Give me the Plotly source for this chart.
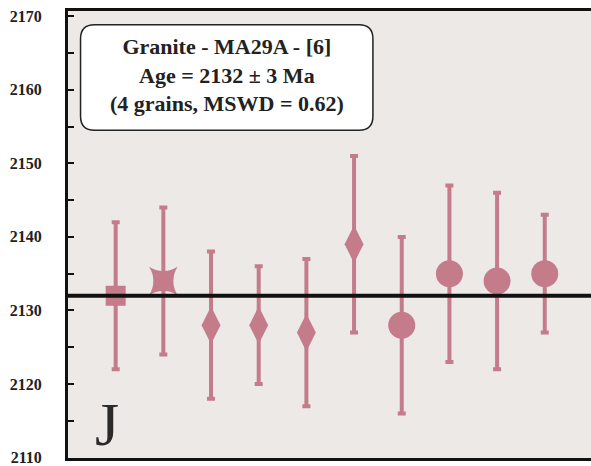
import plotly.graph_objects as go

# Zircon spot ages (Ma) with 2-sigma uncertainties, sample MA29A
grain = [1, 2, 3, 4, 5, 6, 7, 8, 9, 10]
age = [2132, 2134, 2128, 2128, 2127, 2139, 2128, 2135, 2134, 2135]
err = [10, 10, 10, 8, 10, 12, 12, 12, 12, 8]
grain_group = ["A", "B", "C", "C", "C", "C", "D", "D", "D", "D"]

mean_age = 2132
y_ticks = [2110, 2120, 2130, 2140, 2150, 2160, 2170]
box_lines = ["Granite - MA29A - [6]", "Age = 2132 ± 3 Ma", "(4 grains, MSWD = 0.62)"]
panel_label = "J"

PINK = "rgb(196,124,138)"
SERIF = "Liberation Serif, Times New Roman, serif"

group_style = {
    "A": dict(symbol="square", size=20),
    "B": dict(symbol="star-square", size=26),
    "C": dict(symbol="diamond-tall", size=27),
    "D": dict(symbol="circle", size=27),
}

fig = go.Figure()
for g, st in group_style.items():
    idx = [i for i, gg in enumerate(grain_group) if gg == g]
    fig.add_trace(go.Scatter(
        x=[grain[i] for i in idx],
        y=[age[i] for i in idx],
        mode="markers",
        marker=dict(symbol=st["symbol"], size=st["size"], color=PINK,
                    line=dict(width=0)),
        error_y=dict(type="data", array=[err[i] for i in idx], visible=True,
                     color=PINK, thickness=4, width=4),
        showlegend=False,
        hoverinfo="skip",
    ))

# weighted mean age line
fig.add_shape(type="line", xref="paper", x0=0, x1=1, yref="y",
              y0=mean_age, y1=mean_age, line=dict(color="#111111", width=4),
              layer="above")

# rounded text box
x0, x1, y0, y1 = 0.024, 0.583, 0.733, 0.969
rx, ry = 14 / 523, 14 / 447
path = (f"M {x0+rx},{y0} L {x1-rx},{y0} Q {x1},{y0} {x1},{y0+ry} "
        f"L {x1},{y1-ry} Q {x1},{y1} {x1-rx},{y1} L {x0+rx},{y1} "
        f"Q {x0},{y1} {x0},{y1-ry} L {x0},{y0+ry} Q {x0},{y0} {x0+rx},{y0} Z")
fig.add_shape(type="path", xref="paper", yref="paper", path=path,
              fillcolor="white", line=dict(color="#222222", width=1.5))

fig.add_annotation(xref="paper", yref="paper", x=(x0 + x1) / 2, y=0.857,
                   xanchor="center", yanchor="middle",
                   text="<br>".join(f"<b>{t}</b>" for t in box_lines),
                   showarrow=False, align="center",
                   font=dict(family=SERIF, size=22, color="#222222"))

fig.add_annotation(xref="paper", yref="paper", x=0.074, y=0.076,
                   xanchor="center", yanchor="middle",
                   text=panel_label, showarrow=False,
                   font=dict(family=SERIF, size=62, color="#2a2a2a"))

fig.update_xaxes(range=[0, 10.97], showticklabels=False, ticks="",
                 showgrid=False, zeroline=False, showline=True,
                 linecolor="#111111", linewidth=3, mirror=True)
fig.update_yaxes(range=[2109.95, 2170.7], tickvals=y_ticks,
                 ticks="inside", ticklen=6, tickwidth=2, tickcolor="#111111",
                 minor=dict(dtick=5, ticks="inside", ticklen=6, tickwidth=2,
                            tickcolor="#111111", showgrid=False),
                 showgrid=False, zeroline=False, showline=True,
                 linecolor="#111111", linewidth=3, ticklabelstandoff=20,
                 ticklabeloverflow="allow",
                 tickfont=dict(family=SERIF, size=16, color="#222222", weight="bold"))

fig.update_layout(
    width=591, height=466,
    margin=dict(l=68, r=0, t=11, b=8),
    paper_bgcolor="white",
    plot_bgcolor="#ece9e7",
)

fig.write_html("out.html")
